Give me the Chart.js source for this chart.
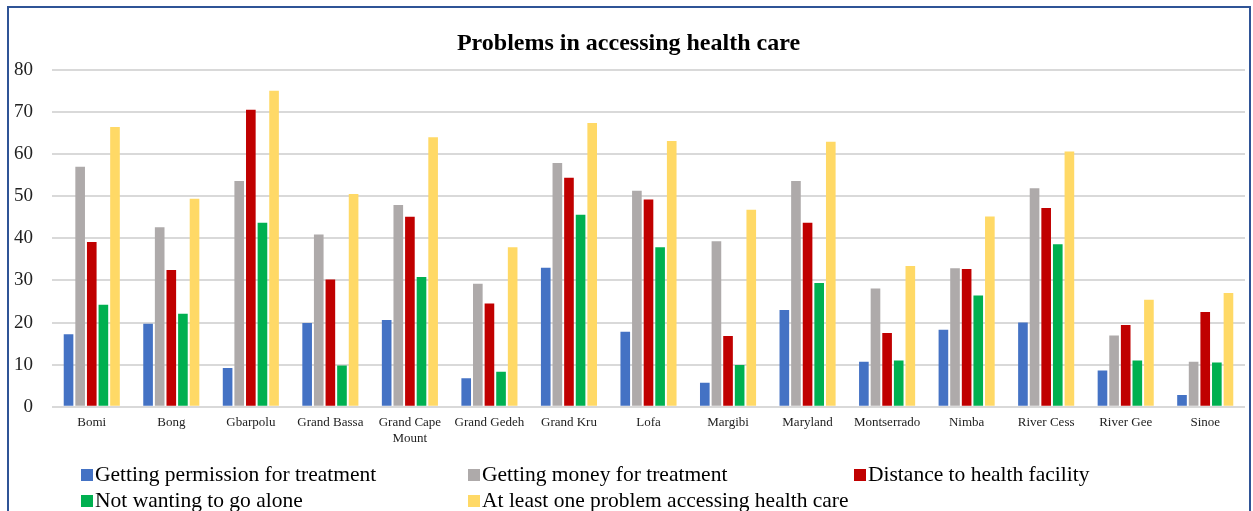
<!DOCTYPE html>
<html>
<head>
<meta charset="utf-8">
<script src="https://cdn.jsdelivr.net/npm/chart.js@4"></script>
<style>
  body { margin:0; background:#fff; overflow:hidden; }
  #wrap { position:relative; width:1253px; height:511px; }
  #frame { position:absolute; left:7px; top:6px; width:1240px; height:560px; border:2px solid #2F5496; pointer-events:none; }
  #legend { position:absolute; left:0; top:461px; width:1253px; font-family:"Liberation Serif","Times New Roman",serif; font-size:21.5px; color:#000; }
  .item { position:absolute; white-space:nowrap; line-height:26px; }
  .box { display:inline-block; width:12px; height:12px; margin-right:2px; vertical-align:0px; }
</style>
</head>
<body>
<div id="wrap">
  <canvas id="chart" width="1253" height="511"></canvas>
  <div id="frame"></div>
  <div id="legend"></div>
</div>
<script>
// counties on the x axis
const counties = ['Bomi', 'Bong', 'Gbarpolu', 'Grand Bassa', ['Grand Cape', 'Mount'], 'Grand Gedeh', 'Grand Kru',
                  'Lofa', 'Margibi', 'Maryland', 'Montserrado', 'Nimba', 'River Cess', 'River Gee', 'Sinoe'];

// percentages
const permission = [17.2, 19.7, 9.2, 19.9, 20.6, 6.8, 33.0, 17.8, 5.7, 23.0, 10.7, 18.3, 20.0, 8.6, 2.8];
const money      = [57.0, 42.6, 53.6, 40.9, 47.9, 29.2, 57.9, 51.3, 39.3, 53.6, 28.1, 32.9, 51.9, 16.9, 10.7];
const distance   = [39.1, 32.5, 70.5, 30.2, 45.1, 24.5, 54.4, 49.2, 16.8, 43.7, 17.5, 32.7, 47.2, 19.4, 22.5];
const alone      = [24.2, 22.1, 43.7,  9.8, 30.8,  8.3, 45.6, 37.9,  9.9, 29.4, 11.0, 26.4, 38.6, 11.0, 10.5];
const atLeastOne = [66.4, 49.4, 75.0, 50.5, 64.0, 37.9, 67.4, 63.1, 46.8, 62.9, 33.4, 45.2, 60.6, 25.4, 27.0];

const seriesNames = ['Getting permission for treatment', 'Getting money for treatment', 'Distance to health facility',
                     'Not wanting to go alone', 'At least one problem accessing health care'];
const colors = ['#4472C4', '#AEAAAA', '#C00000', '#00B050', '#FFD966'];
const yTicks = [0, 10, 20, 30, 40, 50, 60, 70, 80];

const serif = '"Liberation Serif","Times New Roman",serif';
const allData = [permission, money, distance, alone, atLeastOne];

const chart = new Chart(document.getElementById('chart').getContext('2d'), {
    type: 'bar',
    data: {
        labels: counties,
        datasets: allData.map((d, i) => ({
            label: seriesNames[i],
            data: d,
            backgroundColor: colors[i],
            categoryPercentage: 0.73,
            barPercentage: 0.83
        }))
    },
    options: {
        responsive: false,
        animation: false,
        layout: { padding: { left: 12, right: 8, top: 29, bottom: 57 } },
        plugins: {
            legend: { display: false },
            tooltip: { enabled: false },
            title: {
                display: true,
                text: 'Problems in accessing health care',
                color: '#000',
                font: { family: serif, size: 24, weight: 'bold' },
                padding: { top: 0, bottom: 12 }
            }
        },
        scales: {
            x: {
                grid: { display: false, drawTicks: false },
                border: { display: false },
                ticks: { color: '#222', font: { family: serif, size: 13 }, padding: 8, maxRotation: 0, autoSkip: false }
            },
            y: {
                min: 0, max: 80,
                afterBuildTicks: axis => { axis.ticks = yTicks.map(v => ({ value: v })); },
                afterFit: axis => { axis.width = 40; },
                grid: { color: '#D9D9D9', lineWidth: 2, drawTicks: false },
                border: { display: false },
                ticks: { color: '#222', font: { family: serif, size: 19 }, padding: 19 }
            }
        }
    }
});

// legend laid out in three columns like the original
const legendEl = document.getElementById('legend');
const spots = [[81, 0], [468, 0], [854, 0], [81, 26], [468, 26]];
chart.data.datasets.forEach((ds, i) => {
    const div = document.createElement('div');
    div.className = 'item';
    div.style.left = spots[i][0] + 'px';
    div.style.top = spots[i][1] + 'px';
    div.innerHTML = '<span class="box" style="background:' + ds.backgroundColor + '"></span>' + ds.label;
    legendEl.appendChild(div);
});
</script>
</body>
</html>
